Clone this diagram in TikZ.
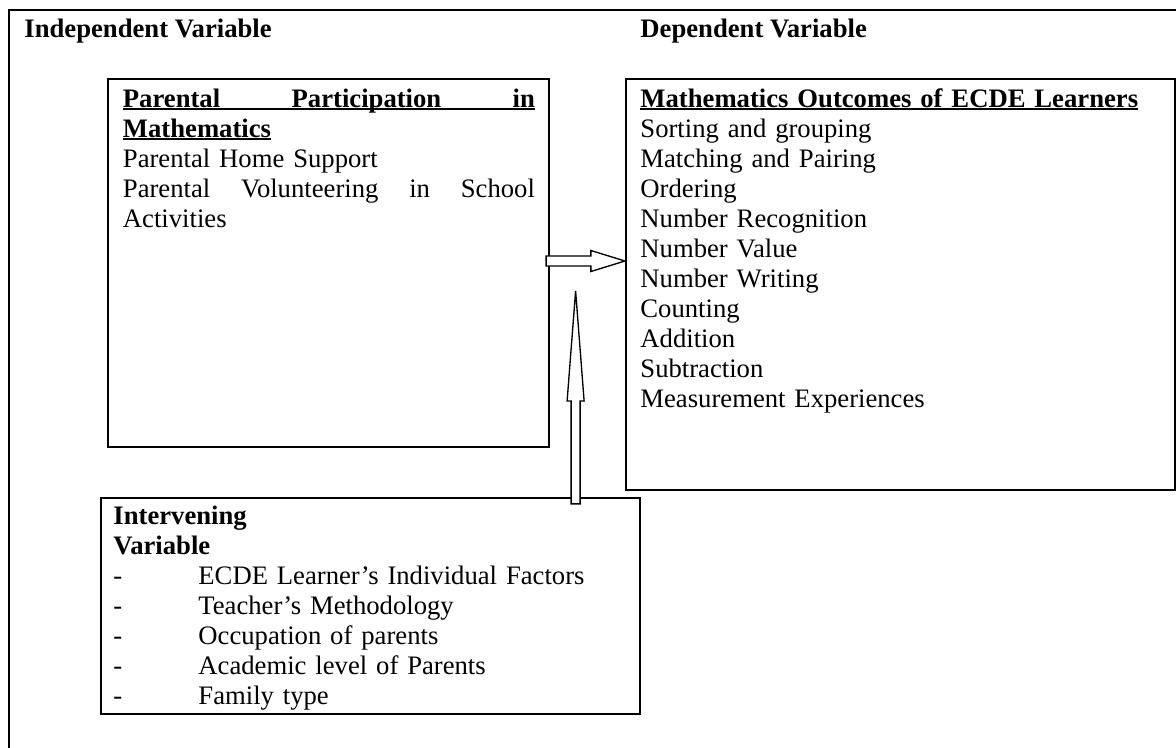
\documentclass[tikz,border=0pt]{standalone}
\usepackage{fontspec}
\setmainfont{Liberation Serif}
\usetikzlibrary{calc, fit}

% underline that sits just under the baseline, whatever the descenders
\newsavebox{\titlebox}
\newcommand{\titleline}[1]{\sbox{\titlebox}{#1}\rlap{\rule[-1.4pt]{\wd\titlebox}{0.9pt}}\usebox{\titlebox}}

\begin{document}
\begin{tikzpicture}[
		x=0.45pt, y=-0.45pt,
		frame/.style = {draw, line width=1pt},
		panel/.style = {draw, rectangle, line width=1pt, inner sep=0pt},
		% Texto de los recuadros
		bodytext/.style = {anchor=base west, inner sep=0pt, align=left, font=\fontsize{12}{13.5}\selectfont},
		heading/.style = {anchor=base west, inner sep=0pt, font=\fontsize{12}{13.5}\selectfont\bfseries},
		hollow/.style = {draw, fill=white, line width=0.6pt, line join=miter}
		]
		
		\useasboundingbox (0,0) rectangle (1176,748);
		
		% --- MARCO EXTERIOR ---
		\draw [frame] (9,748) |- (1176,10);
		
		% --- TITULOS DE LAS VARIABLES ---
		\node [heading] (indep) at (24,37)  {Independent Variable};
		\node [heading] (dep)   at (640,37) {Dependent Variable};
		
		% --- RECUADROS ---
		\node [panel, fit={(108,79) (549,447)}]  (part)     {};
		\node [panel, fit={(626,79) (1175,490)}] (outcomes) {};
		\node [panel, fit={(101,498) (640,714)}] (factors)  {};
		
		% Participacion de los padres (lineas justificadas a mano)
		\node [bodytext, text width=185.4pt] (partText) at (122.5,107) {%
			\textbf{\titleline{\makebox[185.4pt][l]{Parental\hfill Participation\hfill in}}}\\
			\textbf{\titleline{Mathematics}}\\
			Parental Home Support\\
			\makebox[185.4pt][l]{Parental\hfill Volunteering\hfill in\hfill School}\\
			Activities};
		
		% Resultados en matematicas
		\node [bodytext, text width=240pt] (outText) at (640,107) {%
			\textbf{\titleline{Mathematics Outcomes of ECDE Learners}}\\
			Sorting and grouping\\
			Matching and Pairing\\
			Ordering\\
			Number Recognition\\
			Number Value\\
			Number Writing\\
			Counting\\
			Addition\\
			Subtraction\\
			Measurement Experiences};
		
		% Variables intervinientes
		\node [bodytext, text width=235pt] (factText) at (113,524) {%
			\textbf{Intervening}\\
			\textbf{Variable}\\
			\makebox[38.25pt][l]{-}ECDE Learner’s Individual Factors\\
			\makebox[38.25pt][l]{-}Teacher’s Methodology\\
			\makebox[38.25pt][l]{-}Occupation of parents\\
			\makebox[38.25pt][l]{-}Academic level of Parents\\
			\makebox[38.25pt][l]{-}Family type};
		
		% --- FLECHAS HUECAS ---
		\coordinate (hTail) at ($(part.east)+(-4,-2)$);
		\coordinate (hTip)  at (outcomes.west |- hTail);
		\draw [hollow] ($(hTail)+(0,-5)$) -- ($(hTip)+(-34,-5)$) -- ($(hTip)+(-34,-10.5)$) -- (hTip)
			-- ($(hTip)+(-34,10.5)$) -- ($(hTip)+(-34,5)$) -- ($(hTail)+(0,5)$) -- cycle;
		
		\coordinate (vTail) at ($(factors.north east)+(-65.5,7)$);
		\coordinate (vTip)  at ($(vTail |- hTail)+(0,30)$);
		\draw [hollow] ($(vTail)+(-4.5,0)$) -- ($(vTip)+(-4.5,110)$) -- ($(vTip)+(-8.5,110)$) -- (vTip)
			-- ($(vTip)+(8.5,110)$) -- ($(vTip)+(4.5,110)$) -- ($(vTail)+(4.5,0)$) -- cycle;
		
	\end{tikzpicture}
\end{document}
